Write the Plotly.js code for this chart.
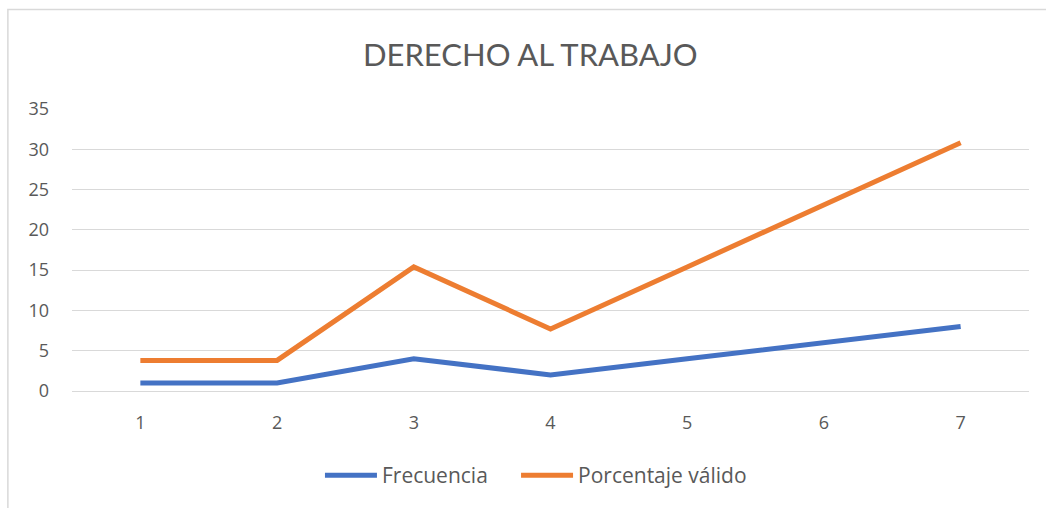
<!DOCTYPE html>
<html>
<head>
<meta charset="utf-8">
<script src="https://cdn.plot.ly/plotly-3.0.1.min.js"></script>
<style>html,body{margin:0;padding:0;background:#fff;}#chart{width:1046px;height:508px;}</style>
</head>
<body>
<div id="chart"></div>
<script>
const categories = ['1', '2', '3', '4', '5', '6', '7'];
const frecuencia = [1, 1, 4, 2, 4, 6, 8];
const porcentajeValido = [3.8, 3.8, 15.4, 7.7, 15.4, 23.1, 30.8];
const yTicks = [0, 5, 10, 15, 20, 25, 30, 35];

const fontFam = '"Open Sans", Lato, sans-serif';
const grey = '#595959';

const traces = [
  {x: categories, y: frecuencia, name: 'Frecuencia', type: 'scatter', mode: 'lines',
   line: {color: '#4472C4', width: 5}, legend: 'legend'},
  {x: categories, y: porcentajeValido, name: 'Porcentaje válido', type: 'scatter', mode: 'lines',
   line: {color: '#ED7D31', width: 5}, legend: 'legend2'}
];

const legendBase = {orientation: 'h', yanchor: 'middle', y: -0.30, xanchor: 'left',
  font: {size: 21, color: grey, family: fontFam}, itemwidth: 52, bgcolor: 'rgba(0,0,0,0)', borderwidth: 0};

const layout = {
  width: 1046, height: 508,
  margin: {l: 72, r: 17, t: 109, b: 117},
  paper_bgcolor: '#fff', plot_bgcolor: '#fff',
  font: {family: fontFam, color: grey, size: 18},
  title: {text: 'DERECHO AL TRABAJO', font: {size: 31, color: grey, family: 'Lato, sans-serif'},
          xref: 'container', x: 0.507, xanchor: 'center', yref: 'container', y: 0.892, yanchor: 'middle'},
  xaxis: {type: 'category', range: [-0.5, 6.5], showgrid: false, zeroline: false,
          showline: true, linecolor: '#d9d9d9', linewidth: 1, ticks: '',
          ticklabelstandoff: 15, tickfont: {size: 18, color: grey, family: fontFam}, fixedrange: true},
  yaxis: {range: [0, 35], tickvals: yTicks, showgrid: true, gridcolor: '#d9d9d9', gridwidth: 1,
          zeroline: false, showline: false, ticks: '', ticklabelstandoff: 22,
          tickfont: {size: 18, color: grey, family: fontFam}, fixedrange: true},
  showlegend: true,
  legend: Object.assign({}, legendBase, {x: 0.2591}),
  legend2: Object.assign({}, legendBase, {x: 0.464}),
  shapes: [{type: 'rect', xref: 'paper', yref: 'paper', x0: -0.067, x1: 1.2, y0: -0.6, y1: 1.353,
            line: {color: '#d9d9d9', width: 1.5}, fillcolor: 'rgba(0,0,0,0)', layer: 'below'}]
};

Plotly.newPlot('chart', traces, layout, {displayModeBar: false, staticPlot: true});
</script>
</body>
</html>
